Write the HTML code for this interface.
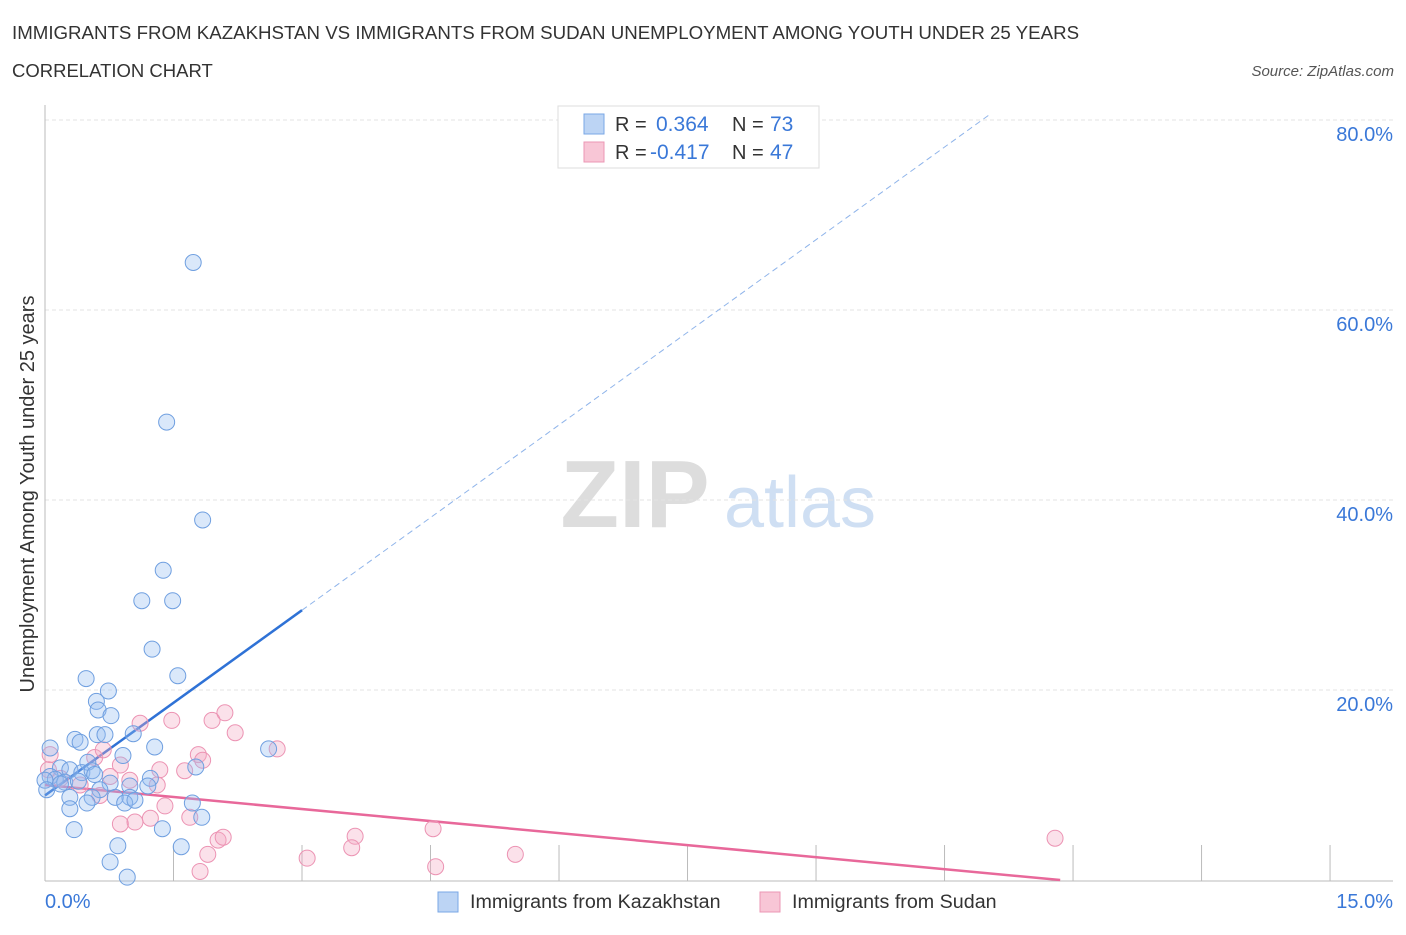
<!DOCTYPE html>
<html><head><meta charset="utf-8"><style>
body{margin:0;background:#fff;font-family:"Liberation Sans",sans-serif;}
svg text{font-family:"Liberation Sans",sans-serif;}
</style></head><body>
<svg id="chart" width="1406" height="930" xmlns="http://www.w3.org/2000/svg">
<text x="12" y="39" font-size="18.7" fill="#333">IMMIGRANTS FROM KAZAKHSTAN VS IMMIGRANTS FROM SUDAN UNEMPLOYMENT AMONG YOUTH UNDER 25 YEARS</text>
<text x="12" y="77" font-size="18.5" fill="#333">CORRELATION CHART</text>
<text x="1394" y="76" font-size="15" fill="#555" font-style="italic" text-anchor="end">Source: ZipAtlas.com</text>
<text x="635" y="527" font-size="96" fill="#ddd" font-family="Liberation Serif,serif" font-weight="bold" text-anchor="middle">ZIP</text>
<text x="800" y="527" font-size="72" fill="#cfdff3" text-anchor="middle">atlas</text>
<g id="grid"></g>
<g id="axes"></g>
<g id="trend"></g>
<g id="points"></g>
<text transform="translate(34,494) rotate(-90)" font-size="20" fill="#333" text-anchor="middle">Unemployment Among Youth under 25 years</text>
<g>
<rect x="558" y="106" width="261" height="62" fill="#fff" stroke="#ddd"/>
<rect x="584" y="114" width="20" height="20" fill="#bcd4f4" stroke="#7aa7e6"/>
<text x="615" y="131" font-size="20" fill="#333">R = </text><text x="656" y="131" font-size="21" fill="#3a78d8">0.364</text>
<text x="732" y="131" font-size="20" fill="#333">N = </text><text x="770" y="131" font-size="21" fill="#3a78d8">73</text>
<rect x="584" y="142" width="20" height="20" fill="#f8c6d6" stroke="#eb97b4"/>
<text x="615" y="159" font-size="20" fill="#333">R = </text><text x="650" y="159" font-size="21" fill="#3a78d8">-0.417</text>
<text x="732" y="159" font-size="20" fill="#333">N = </text><text x="770" y="159" font-size="21" fill="#3a78d8">47</text>
</g>
<g>
<rect x="438" y="892" width="20" height="20" fill="#bcd4f4" stroke="#7aa7e6"/>
<text x="470" y="908" font-size="19.7" fill="#333">Immigrants from Kazakhstan</text>
<rect x="760" y="892" width="20" height="20" fill="#f8c6d6" stroke="#eb97b4"/>
<text x="792" y="908" font-size="19.7" fill="#333">Immigrants from Sudan</text>
</g>
<text x="45" y="908" font-size="20" fill="#3a78d8">0.0%</text>
<text x="1393" y="908" font-size="20" fill="#3a78d8" text-anchor="end">15.0%</text>
</svg>
<script>
const yTicks=[20,40,60,80];
const yTickLabels=["20.0%","40.0%","60.0%","80.0%"];
const xTicks=[0,1.5,3,4.5,6,7.5,9,10.5,12,13.5,15];
const blueX=[1.73,1.42,1.84,1.38,1.13,1.49,1.25,1.55,0.48,0.74,0.60,0.62,0.77,1.03,0.61,0.70,0.35,0.41,1.28,2.61,0.06,0.91,1.76,0.50,0.18,0.29,0.43,0.55,1.23,0.06,0.12,0.23,0.76,0.0,0.99,1.20,0.64,0.55,0.99,0.29,0.82,0.93,1.05,1.72,0.49,0.29,1.83,1.37,0.34,0.85,1.59,0.76,0.96,0.18,0.39,0.58,0.02];
const blueY=[65.0,48.2,37.9,32.6,29.4,29.4,24.3,21.5,21.2,19.9,18.8,17.9,17.3,15.4,15.3,15.3,14.8,14.5,14.0,13.8,13.9,13.1,11.9,12.4,11.8,11.6,11.3,11.5,10.7,10.9,10.6,10.3,10.2,10.5,9.9,9.9,9.5,8.7,8.7,8.7,8.7,8.1,8.4,8.1,8.1,7.5,6.6,5.4,5.3,3.6,3.5,1.9,0.3,10.1,10.4,11.1,9.5];
const pinkX=[0.06,0.04,1.11,1.48,1.95,2.10,2.22,2.71,1.79,1.84,0.58,0.68,0.88,1.34,1.63,0.99,1.31,1.40,1.23,0.88,1.05,1.69,2.02,2.08,1.90,1.81,3.06,3.62,3.58,4.53,4.56,5.49,11.79,0.41,0.64,0.18,0.76];
const pinkY=[13.2,11.6,16.5,16.8,16.8,17.6,15.5,13.8,13.2,12.6,12.9,13.7,12.1,11.6,11.5,10.5,10.0,7.8,6.5,5.9,6.1,6.6,4.2,4.5,2.7,0.9,2.3,4.6,3.4,5.4,1.4,2.7,4.4,10.0,8.9,10.7,10.9];
const blueTrend={x0:0,y0:8.9,x1:3,y1:28.4,xEnd:11.02};
const pinkTrend={x0:0,y0:10.0,x1:11.85,y1:0};
const NS="http://www.w3.org/2000/svg";
const sx=v=>45+v*85.67, sy=v=>880-v*9.5;
function mk(t,a,p){const e=document.createElementNS(NS,t);for(const k in a)e.setAttribute(k,a[k]);p.appendChild(e);return e;}
const grid=document.getElementById('grid'),axes=document.getElementById('axes'),tr=document.getElementById('trend'),pts=document.getElementById('points');
yTicks.forEach((t,i)=>{
 const l=mk('line',{x1:45,x2:1393,y1:sy(t),y2:sy(t),stroke:'#e3e3e3','stroke-dasharray':'4,3'},grid);
 
 
 const tx=mk('text',{x:1393,y:sy(t)+21,'font-size':20,fill:'#3a78d8','text-anchor':'end'},grid);
 tx.textContent=yTickLabels[i];
 
 
});
const xa=mk('line',{x1:45,x2:1393,y1:881,y2:881,stroke:'#bbb'},axes);


const ya=mk('line',{x1:45,x2:45,y1:105,y2:881,stroke:'#bbb'},axes);


xTicks.forEach(t=>{const l=mk('line',{x1:sx(t),x2:sx(t),y1:845,y2:881,stroke:'#bbb'},axes);
 
 });
const bs=(blueTrend.y1-blueTrend.y0)/(blueTrend.x1-blueTrend.x0);
const bd=mk('line',{x1:sx(blueTrend.x1),y1:sy(blueTrend.y1),x2:sx(blueTrend.xEnd),y2:sy(blueTrend.y0+bs*blueTrend.xEnd),stroke:'#8fb4ea','stroke-width':1,'stroke-dasharray':'6,4'},tr);


const bl=mk('line',{x1:sx(blueTrend.x0),y1:sy(blueTrend.y0),x2:sx(blueTrend.x1),y2:sy(blueTrend.y1),stroke:'#2f72d6','stroke-width':2.5},tr);


const pl=mk('line',{x1:sx(pinkTrend.x0),y1:sy(pinkTrend.y0),x2:sx(pinkTrend.x1),y2:sy(pinkTrend.y1),stroke:'#e8689a','stroke-width':2.5},tr);


pinkX.forEach((x,i)=>{const c=mk('circle',{cx:sx(x),cy:sy(pinkY[i]),r:8,fill:'rgba(244,170,196,0.35)',stroke:'#ec93b3','stroke-width':1},pts);
 
 });
blueX.forEach((x,i)=>{const c=mk('circle',{cx:sx(x),cy:sy(blueY[i]),r:8,fill:'rgba(150,190,240,0.35)',stroke:'#6f9fe0','stroke-width':1},pts);
 
 });
</script>
</body></html>
